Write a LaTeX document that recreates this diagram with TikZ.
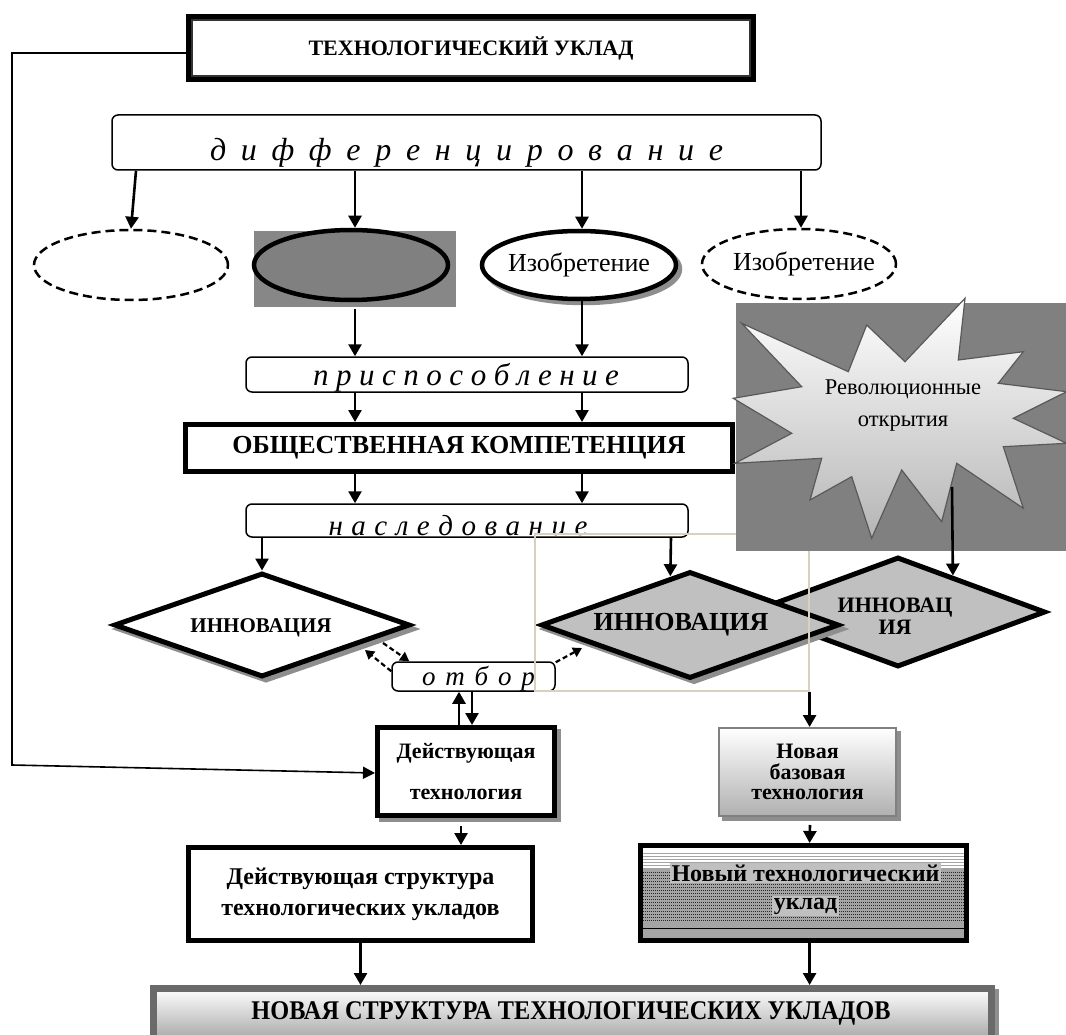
\documentclass[tikz,border=0pt]{standalone}
\usepackage{fontspec}
\usepackage{graphicx}
\setmainfont{Liberation Serif}
\usetikzlibrary{arrows.meta,shapes.geometric,calc}
\definecolor{beige}{HTML}{D6D2BE}
\definecolor{midgray}{HTML}{808080}
\definecolor{rectgray}{HTML}{878787}
\definecolor{lgray}{HTML}{C0C0C0}
\definecolor{shgray}{HTML}{8E8E8E}
\definecolor{ntgray}{HTML}{A4A4A4}
\definecolor{botgray}{HTML}{6A6A6A}
\newcommand\myfs[1]{\fontsize{#1}{#1}\selectfont}
\begin{document}
\begin{tikzpicture}[x=1pt,y=-1pt,
  arr/.style={line width=2.6pt,-{Triangle[length=12pt,width=13pt]}},
  darr/.style={line width=2.2pt,dash pattern=on 5pt off 3pt,-{Triangle[length=9pt,width=10pt]}},
  rbox/.style={draw,rounded corners=6pt,line width=1.5pt,fill=white,inner sep=0pt},
  tbox/.style={draw,line width=5pt,inner sep=0pt},
  shd/.style={preaction={draw=shgray,fill=shgray,transform canvas={xshift=4pt,yshift=-4pt}}},
  dashell/.style={ellipse,draw,line width=2.5pt,dash pattern=on 9pt off 5pt,inner sep=0pt,minimum width=194pt,minimum height=70pt},
  fullell/.style={ellipse,draw,line width=4.5pt,inner sep=0pt,minimum width=194pt,minimum height=70pt},
  dia/.style={diamond,draw,line width=5pt,inner sep=0pt}
]
\clip (0,0) rectangle (1066,1035);
\fill[white] (0,0) rectangle (1066,1035);

% ---------- top box
\node[draw,line width=7pt,fill=white,minimum width=563pt,minimum height=61pt,inner sep=0pt,font=\myfs{22}\bfseries] (top) at (471,48) {ТЕХНОЛОГИЧЕСКИЙ УКЛАД};
\draw[line width=1.3pt,black!80] ([shift={(6,6)}]top.north west) rectangle ([shift={(-6,-6)}]top.south east);

% ---------- differentiation
\node[rbox,minimum width=709pt,minimum height=55pt] (diff) at (466.5,142.5) {};
\node[anchor=base,inner sep=0pt,font=\myfs{32}\itshape] (difft) at (466.5,161) {\makebox[513pt][s]{д и ф ф е р е н ц и р о в а н и е}};

\coordinate (c1) at (355,0);
\coordinate (c2) at (582,0);

% ---------- ellipses
\node[dashell] (e1) at (131,265) {};
\fill[rectgray] (254,231) rectangle (456,307);
\node[fullell,fill=midgray] (e2) at (351,265) {};
\node[fullell,fill=white,shd,minimum height=68pt,font=\myfs{26}] (e3) at (579,265) {\makebox[0pt]{Изобретение}};
\node[dashell,font=\myfs{26}] (e4) at (799,264) {\makebox[0pt]{\hspace{10pt}Изобретение}};

\draw[arr] ([xshift=5pt]diff.south -| e1.north) -- (e1.north);
\draw[arr] (diff.south -| c1) -- (e2.north -| c1);
\draw[arr] (diff.south -| c2) -- (e3.north -| c2);
\draw[arr] ([xshift=2pt]diff.south -| e4.north) -- ([xshift=2pt]e4.north);

% ---------- adaptation
\node[rbox,minimum width=442pt,minimum height=35pt] (pri) at (467,374.5) {};
\node[anchor=base,inner sep=0pt,font=\myfs{31}\itshape] (prit) at (466,385) {\makebox[306pt][s]{п р и с п о с о б л е н и е}};
\draw[arr] ([yshift=-7pt]e2.south -| c1) -- (pri.north -| c1);
\draw[arr] (e3.south -| c2) -- (pri.north -| c2);

% ---------- competence
\node[tbox,fill=white,minimum width=547pt,minimum height=47pt,font=\myfs{26}\bfseries] (obs) at (459,448) {ОБЩЕСТВЕННАЯ КОМПЕТЕНЦИЯ};
\draw[arr] (pri.south -| c1) -- (obs.north -| c1);
\draw[arr] (pri.south -| c2) -- (obs.north -| c2);

% ---------- inheritance
\node[rbox,minimum width=442pt,minimum height=33pt] (nas) at (467,520.5) {};
\node[anchor=base,inner sep=0pt,font=\myfs{29}\itshape] (nast) at (458,535) {\makebox[259pt][s]{н а с л е д о в а н и е}};
\draw[arr] (obs.south -| c1) -- (nas.north -| c1);
\draw[arr] (obs.south -| c2) -- (nas.north -| c2);

% ---------- diamonds
\node[dia,fill=lgray,minimum width=295pt,minimum height=110pt] (d3) at (898,612) {};
\node[font=\myfs{22}\bfseries,align=center,inner sep=0pt] (d3t) at (895,616) {ИННОВАЦ\\ИЯ};
\node[dia,fill=white,shd,minimum width=296pt,minimum height=104pt] (d1) at (262,625) {};
\node[font=\myfs{21}\bfseries,inner sep=0pt] (d1t) at (261,628) {ИННОВАЦИЯ};
\node[dia,fill=lgray,shd,minimum width=298pt,minimum height=107pt] (d2) at (690,625) {};
\node[font=\myfs{26}\bfseries,inner sep=0pt] (d2t) at (681,625) {ИННОВАЦИЯ};

\coordinate (c3) at (671,0);
\draw[arr] (nas.south -| d1.north) -- (d1.north);
\draw[arr] (nas.south -| c3) -- ($(d2.north)!0.13!(d2.west)$);

% ---------- selection
\node[rbox,minimum width=163pt,minimum height=29pt] (otb) at (473.5,676.5) {};
\node[anchor=base,inner sep=0pt,font=\myfs{27}\itshape] (otbt) at (478.5,685) {\makebox[113pt][s]{о т б о р}};

% ---------- thin frame
\node[draw=beige,line width=1.2pt,minimum width=274pt,minimum height=157pt,inner sep=0pt] (frm) at (672,612.5) {};

% ---------- revolutionary discoveries
\fill[midgray] (736,303) rectangle (1066,551);
\path[draw=gray!70!black,line width=1.2pt,top color=white,bottom color=gray!58]
 (965,298.3) -- (958.3,360) -- (1023.3,351.7) -- (998.3,383.3) -- (1066.7,391.7) -- (1013.3,418.3)
 -- (1066.7,443.3) -- (1003.3,446.7) -- (1023.3,508.3) -- (956.7,463.3) -- (941.7,521.7) -- (901.7,470)
 -- (871.7,538.3) -- (851.7,476.7) -- (810,500) -- (821.7,458.3) -- (735,463.3) -- (791.7,433.3)
 -- (733.3,398.3) -- (801.7,386.7) -- (741.7,323.3) -- (848.3,371.7) -- (866.7,325) -- (905,361.7) -- cycle;
\node[font=\fontsize{22.5}{32}\selectfont,align=center,inner sep=0pt] (rev) at (903,406) {Революционные\\открытия};
\coordinate (rs) at (952,487);
\draw[arr] (rs) -- ($(d3.north)!0.366!(d3.east)$);

% ---------- dashed selection arrows
\coordinate (da1) at (365,650);
\coordinate (da2) at (383,643);
\coordinate (da3) at (582,648);
\draw[darr] ([yshift=-10pt]otb.north west) -- (da1);
\draw[darr] (da2) -- ([xshift=18pt]otb.north west);
\draw[darr] ([yshift=-1pt]otb.north east) -- (da3);

% ---------- current technology
\node[tbox,fill=white,shd,minimum width=177pt,minimum height=88pt,font=\fontsize{22}{41}\selectfont\bfseries,align=center] (dt) at (466,771.5) {Действующая\\технология};
\draw[arr] ([xshift=-7pt]dt.north) -- ([xshift=-7pt]dt.north |- otb.south);
\draw[arr] ([xshift=-1.5pt]otb.south) -- ([xshift=6pt]dt.north);

% feedback line
\coordinate (fb1) at (12,53);
\coordinate (fb2) at (12,765);
\draw[line width=1.6pt,-{Triangle[length=12pt,width=12pt]}] (top.west |- fb1) -- (fb1) -- (fb2) -- ([yshift=-1.5pt]dt.west);

% ---------- current structure
\node[tbox,fill=white,minimum width=344pt,minimum height=93pt,font=\fontsize{24}{31}\selectfont\bfseries,align=center] (ds) at (360.5,894) {Действующая структура\\технологических укладов};
\draw[arr] ([xshift=-5pt,yshift=-8pt]dt.south) -- ([xshift=-5pt]dt.south |- ds.north);

% ---------- new base technology
\node[draw=midgray,line width=2pt,top color=white,bottom color=gray!62,shd,minimum width=177pt,minimum height=88pt,inner sep=0pt,font=\fontsize{22}{20.5}\selectfont\bfseries,align=center] (nbt) at (807.5,772) {Новая\\базовая\\технология};
\draw[arr] (frm.south east) -- (nbt.north -| frm.south east);

% ---------- new technological mode
\fill[ntgray] (641,846) rectangle (966,940);
\fill[white] (643,848) rectangle (964,851);
\foreach \yy in {852,855,...,869} \draw[white,line width=1.2pt] (643,\yy) -- (964,\yy);
\foreach \yy in {872,875,...,920} \draw[gray!30!black,line width=0.7pt,dash pattern=on 1pt off 1pt] (643,\yy) -- (964,\yy);
\draw[black,line width=1pt] (643,928) -- (964,928);
\node[tbox,minimum width=326pt,minimum height=95pt] (nt) at (803.5,893) {};
\node[fill=lgray,inner sep=1.5pt,font=\myfs{24}\bfseries] (nt1) at (805.5,873) {Новый технологический};
\node[fill=lgray,inner sep=1.5pt,font=\myfs{24}\bfseries] (nt2) at (805.5,906) {уклад};
\draw[arr] ([xshift=2.5pt,yshift=-8pt]nbt.south) -- (nt.north -| frm.south east);

% ---------- bottom box
\node[draw=botgray,line width=7pt,top color=white,bottom color=gray!70,shd,minimum width=838pt,minimum height=52pt,inner sep=0pt] (bot) at (572.5,1014.5) {};
\node[font=\myfs{27}\bfseries,inner sep=0pt] (bott) at (571,1013) {\scalebox{0.9}[1]{НОВАЯ СТРУКТУРА ТЕХНОЛОГИЧЕСКИХ УКЛАДОВ}};
\draw[arr] (ds.south) -- (bot.north -| ds.south);
\draw[arr] (nt.south -| frm.south east) -- (bot.north -| frm.south east);
\end{tikzpicture}
\end{document}
